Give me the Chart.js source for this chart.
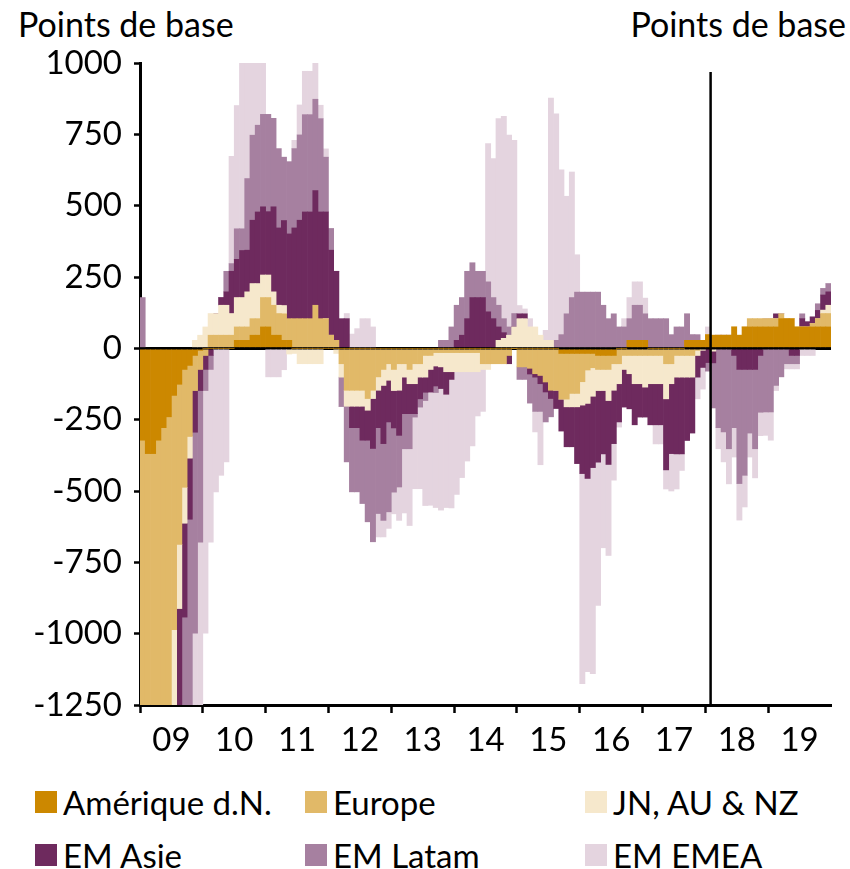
<!DOCTYPE html>
<html lang="fr">
<head>
<meta charset="utf-8">
<title>Points de base</title>
<script src="https://cdn.jsdelivr.net/npm/chart.js@4.4.1/dist/chart.umd.min.js"></script>
<style>
  html, body { margin: 0; padding: 0; background: #fff; }
  body { width: 850px; height: 869px; position: relative; overflow: hidden; font-family: Lato, "Open Sans", sans-serif; color: #000; }
  #wrap { position: absolute; left: 0; top: 0; width: 850px; height: 770px; }
  .unit { position: absolute; top: 3px; font-size: 34px; white-space: nowrap; }
  .legend-item { position: absolute; font-size: 33px; white-space: nowrap; display: flex; align-items: center; height: 36px; }
  .swatch { width: 22px; height: 22px; margin-right: 6px; flex: none; }
</style>
</head>
<body>
<div class="unit" style="left:18px;">Points de base</div>
<div class="unit" style="right:4px;">Points de base</div>
<div id="wrap"><canvas id="myChart" width="850" height="770"></canvas></div>
<div id="legend"></div>

<script>
// monthly data, Jan 2009 -> Dec 2019
const months = [];
for (let y = 2009; y <= 2019; y++) {
  for (let m = 1; m <= 12; m++) {
    months.push(y + "-" + String(m).padStart(2, "0"));
  }
}
const yearLabels = ["09", "10", "11", "12", "13", "14", "15", "16", "17", "18", "19"];
const markerMonth = "2018-02";

const seriesNames = ["Amérique d.N.", "Europe", "JN, AU & NZ", "EM Asie", "EM Latam", "EM EMEA"];
const seriesColors = ["#cc8800", "#e1b968", "#f6e8cc", "#6e2a5e", "#a680a0", "#e4d4df"];

const ameriqueDN = [
  -322, -369, -369, -322, -278, -240, -165, -126, -74, -60, -25, -7,
  0, 0, 0, 0, 0, 0, 28, 28, 28, 46, 46, 75,
  75, 46, 46, 28, 28, 0, 0, 0, 0, 0, 0, 0,
  0, 0, 0, 0, 0, 0, 0, 0, 0, 0, 0, 0,
  0, 0, 0, 0, 0, 0, 0, 0, 0, 0, 0, 0,
  0, 0, 0, 0, 0, 0, 0, 0, 0, 0, 0, 0,
  0, 0, 0, 0, 0, 0, 0, 0, -18, -18, -18, -18,
  -18, -18, -18, -25, -25, -25, -25, 0, 0, 28, 28, 28,
  28, 0, 0, 0, 0, 0, 0, 0, 28, 28, 28, 28,
  48, 46, 46, 46, 46, 75, 46, 75, 75, 75, 75, 75,
  75, 75, 104, 104, 104, 75, 75, 75, 75, 75, 75, 75
];
const europe = [
  -1300, -1300, -1300, -1300, -1300, -1300, -821, -561, -413, -249, -123, -67,
  -25, 46, 46, 46, 46, 46, 47, 47, 47, 58, 58, 103,
  103, 105, 76, 93, 76, 104, 104, 104, 104, 151, 104, 104,
  46, 28, -54, -147, -147, -147, -147, -176, -147, -100, -74, -54,
  -74, -54, -54, -74, -54, -54, -25, -25, -15, -15, -15, -15,
  -15, -15, -15, -15, -15, -54, -54, -54, -54, -54, -25, 0,
  -65, -65, -70, -89, -95, -118, -147, -147, -160, -160, -140, -140,
  -99, -58, -50, -49, -49, -49, -29, -54, -25, -25, -25, -25,
  -25, -25, -25, -25, -54, -54, -25, -25, -25, -25, -7, 0,
  0, 0, 0, 0, 0, 0, 0, 0, 29, 29, 29, 29,
  29, 29, 17, 0, 0, 0, 0, 0, 12, 29, 47, 47
];
const japonAusNz = [
  -100, -100, -100, -100, -100, -100, -400, -225, -126, -76, 28, 46,
  75, 76, 76, 105, 105, 76, 103, 103, 123, 123, 123, 79,
  79, 47, 29, 29, -20, -18, -54, -54, -54, -54, -54, 0,
  0, -18, -47, -56, -56, -56, -56, -41, -29, -47, -56, -58,
  -74, -93, -47, -50, -70, -47, -76, -49, -47, -50, -67, -67,
  -67, -67, -67, -67, -67, -20, -20, 0, 28, 35, 46, 75,
  104, 104, 75, 75, 46, 28, 28, 0, 0, -27, -47, -47,
  -82, -117, -100, -74, -74, -109, -93, -70, -49, -64, -99, -99,
  -111, -99, -99, -99, -123, -70, -76, -76, -76, -76, -18, -7,
  0, -10, 0, 0, 0, 0, 0, 0, 0, 0, 0, 0,
  0, 0, 0, 0, 0, 0, 0, 0, 0, 0, 12, 29
];
const emAsie = [
  -100, -100, -100, -100, -100, -100, -300, -400, -329, -214, -146, -74,
  -49, -25, 0, 27, 47, 148, 134, 165, 146, 222, 251, 239,
  222, 298, 271, 298, 297, 318, 345, 374, 374, 402, 374, 374,
  298, 242, 104, 104, -75, -75, -119, -105, -175, -131, -204, -146,
  -131, -158, -128, -105, -105, -76, -53, -79, -70, -76, -79, -27,
  28, 46, 104, 178, 178, 178, 128, 104, 47, 20, -29, 0,
  17, 17, -20, -12, -29, -35, -29, -64, -112, -140, -140, -199,
  -240, -263, -250, -251, -222, -224, -187, -134, -132, -123, -144, -117,
  -105, -144, -144, -144, -249, -245, -269, -269, -222, -196, -76, -60,
  -50, -41, 0, 0, 0, -25, -74, -74, -74, -74, -25, 0,
  0, 17, 0, 0, -25, -25, 29, 18, 23, 29, 53, 47
];
const emLatam = [
  178, -100, -100, -100, -100, -100, -100, -100, -400, -700, -704, -531,
  -74, -49, 0, 0, 72, 27, 107, 76, 251, 298, 304, 324,
  341, 310, 278, 222, 253, 278, 299, 341, 341, 320, 327, 192,
  76, 0, -103, -195, -225, -225, -222, -286, -327, -301, -269, -315,
  -225, -181, -123, -123, -12, -29, -29, 0, -23, 28, 28, 75,
  123, 132, 166, 122, 92, 92, 105, 74, 76, 49, 29, 47,
  -44, -44, -102, -120, -97, -105, -64, 28, 48, 121, 178, 197,
  197, 197, 197, 197, 151, 104, 121, 75, 75, 76, 123, 123,
  93, 104, 104, 104, 104, 48, 75, 75, 93, 20, 20, 0,
  -30, -158, -278, -293, -352, -253, -400, -371, -223, -278, -199, -223,
  -223, -130, -100, -54, -29, -29, 17, 0, 0, 23, 23, 29
];
const emEmea = [
  -100, -100, -100, -100, -100, -100, -100, -100, -100, -100, -350, -650,
  -850, -605, -503, -445, -398, 376, 432, 590, 555, 354, 369, 381,
  -100, -100, -100, -75, 0, 29, 105, 152, 152, 126, 47, 29,
  0, 0, 0, 18, 50, 69, 104, 104, 75, -82, -58, -58,
  -76, -117, -225, -269, -251, -286, -368, -397, -403, -426, -397, -450,
  -430, -371, -313, -260, -155, -147, 485, 487, 654, 709, 672, 607,
  29, 17, 29, -72, -187, 35, 849, 794, 578, 412, 440, 131,
  -736, -677, -722, -502, -329, -319, -128, -18, 29, 74, 82, 82,
  55, 0, -67, -67, -67, -131, -123, -58, 0, 0, -76, -76,
  27, 0, -74, -105, -123, -103, -128, -111, -84, -102, -82, -82,
  -99, -18, 0, -18, -18, -18, -25, -25, -25, 0, 0, 0
];

const seriesValues = [ameriqueDN, europe, japonAusNz, emAsie, emLatam, emEmea];

Chart.defaults.font.family = "Lato, 'Open Sans', sans-serif";
Chart.defaults.color = "#000";

// vertical black line marking the start of the forecast period
const markerLine = {
  id: "markerLine",
  afterDatasetsDraw(chart) {
    const xs = chart.scales.x;
    const i = months.indexOf(markerMonth);
    const x = (xs.getPixelForValue(i - 1) + xs.getPixelForValue(i)) / 2;
    const ctx = chart.ctx;
    ctx.save();
    ctx.strokeStyle = "#000";
    ctx.lineWidth = 2.5;
    ctx.beginPath();
    ctx.moveTo(x, chart.chartArea.top + 9);
    ctx.lineTo(x, chart.chartArea.bottom);
    ctx.stroke();
    ctx.restore();
  },
};

const datasets = [];
for (let i = 0; i < seriesNames.length; i++) {
  datasets.push({
    label: seriesNames[i],
    data: seriesValues[i],
    backgroundColor: seriesColors[i],
    borderWidth: 0,
    categoryPercentage: 1,
    barPercentage: 1,
    clip: 0,
  });
}

const config = {
  type: "bar",
  data: { labels: months, datasets: datasets },
  options: {
    responsive: false,
    devicePixelRatio: 1,
    animation: false,
    layout: { padding: { top: 63, right: 19, left: 0, bottom: 0 } },
    plugins: { legend: { display: false }, tooltip: { enabled: false } },
    scales: {
      x: {
        stacked: true,
        afterFit: (scale) => { scale.height = 65; },
        ticks: {
          autoSkip: false,
          maxRotation: 0,
          minRotation: 0,
          padding: 8,
          labelOffset: -2.6,
          font: { size: 33 },
          callback: (v, idx) => (idx % 12 === 6 ? yearLabels[(idx - 6) / 12] : ""),
        },
        grid: {
          offset: true,
          drawOnChartArea: false,
          tickLength: 8,
          tickWidth: 2.5,
          tickColor: (ctx) => (ctx.index % 12 === 0 ? "#000" : "rgba(0,0,0,0)"),
        },
        border: { color: "#000", width: 3 },
      },
      y: {
        stacked: true,
        min: -1250,
        max: 1000,
        z: 1,
        afterFit: (scale) => { scale.width = 140; },
        ticks: { stepSize: 250, padding: 12, font: { size: 33 }, callback: (v) => String(v) },
        grid: {
          color: (ctx) => (ctx.tick && ctx.tick.value === 0 ? "#000" : "rgba(0,0,0,0)"),
          lineWidth: (ctx) => (ctx.tick && ctx.tick.value === 0 ? 3 : 1),
          tickColor: "#000",
          tickLength: 6,
          tickWidth: 2.5,
        },
        border: { color: "#000", width: 3 },
      },
    },
  },
  plugins: [markerLine],
};

const myChart = new Chart(document.getElementById("myChart"), config);

// legend in three columns, two rows
const legendPos = [[35, 784], [305, 784], [585, 784], [35, 837], [305, 837], [585, 837]];
const legend = document.getElementById("legend");
for (let i = 0; i < seriesNames.length; i++) {
  const item = document.createElement("div");
  item.className = "legend-item";
  item.style.left = legendPos[i][0] + "px";
  item.style.top = legendPos[i][1] + "px";
  const sw = document.createElement("span");
  sw.className = "swatch";
  sw.style.background = seriesColors[i];
  const txt = document.createElement("span");
  txt.textContent = seriesNames[i];
  item.appendChild(sw);
  item.appendChild(txt);
  legend.appendChild(item);
}
</script>
</body>
</html>
